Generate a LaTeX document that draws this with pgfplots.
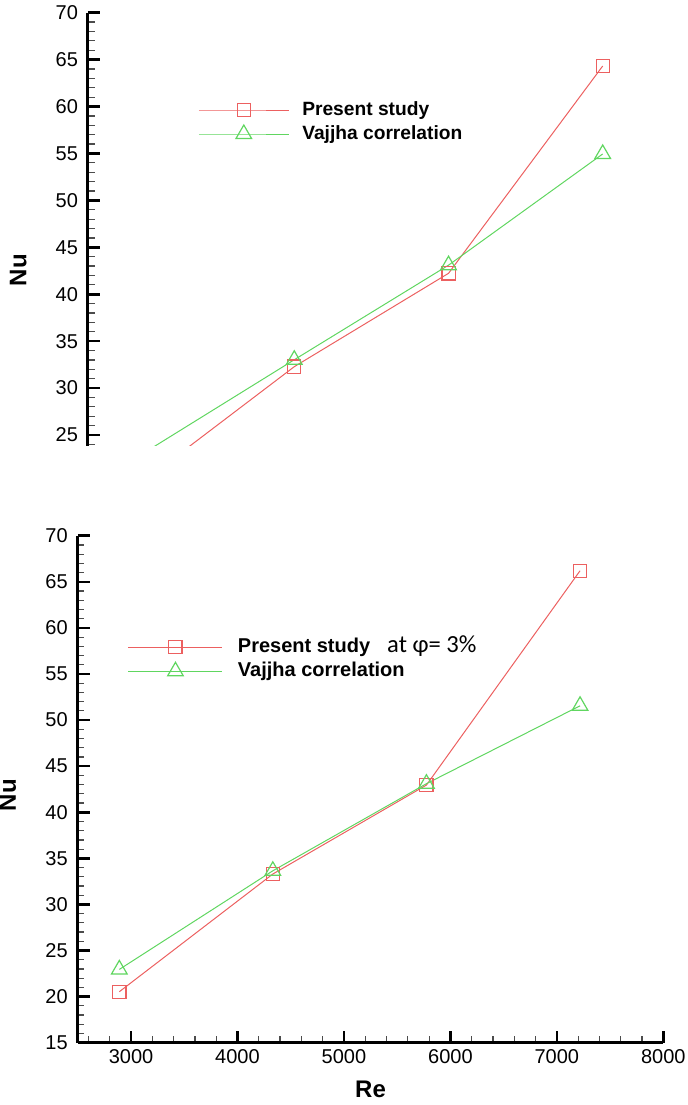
\documentclass[border=0pt]{standalone}
\usepackage{pgfplots}
\pgfplotsset{compat=1.18}
\usepackage{fontspec}
\setmainfont{Liberation Sans}
\newfontfamily\calib{Carlito}

\definecolor{studyred}{RGB}{236,96,96}
\definecolor{corrgreen}{RGB}{96,214,96}

\pgfplotsset{
  nuaxis/.style={
    scale only axis,
    anchor=south west,
    xmin=2500, xmax=8000,
    ymax=70,
    ytick={15,20,...,70},
    minor ytick={15,...,70},
    major tick length=6pt,
    minor tick length=3.3pt,
    major tick style={line width=1.3pt, black},
    minor tick style={line width=0.6pt, black!70},
    axis line style={line width=1.5pt},
    /pgf/number format/assume math mode=true,
    /pgf/number format/set thousands separator={},
    tick label style={font=\fontsize{10}{12}\selectfont},
    yticklabel style={xshift=-1.5pt},
    label style={font=\fontsize{12}{14}\selectfont\bfseries},
    legend cell align=left,
    legend style={draw=none, fill=none, inner sep=0pt, outer sep=0pt,
      anchor=north west, row sep=1pt,
      nodes={inner sep=0pt, text height=8pt, text depth=3pt}},
  },
  % legend sample: a line of the given length with the marker in its middle
  legline/.style={
    legend image code/.code={\draw[##1, mark repeat=2, mark phase=2]
      plot coordinates {(0pt,0pt) (#1/2,0pt) (#1,0pt)};},
  },
  study/.style={studyred, line width=0.5pt, mark=square, mark size=3.3pt,
    mark options={line width=0.6pt, solid}},
  corr/.style={corrgreen, line width=0.5pt, mark=triangle, mark size=4.5pt,
    mark options={line width=0.6pt, solid}},
}

\begin{document}
\begin{tikzpicture}
\path[use as bounding box] (0,0) rectangle (344pt,-552.5pt);

% upper panel: only the left axis, cut off below Nu = 24
\begin{axis}[nuaxis,
  at={(44pt,-222.85pt)},
  width=297.3pt, height=216.5pt,
  ymin=23.86,
  axis x line=none, axis y line*=left,
  xtick=\empty,
  tick align=inside,
  ylabel={Nu},
  ylabel style={at={(axis description cs:0,0.4057)}, anchor=center, yshift=34.85pt},
  legline=45pt,
  legend style={at={(axis description cs:0.1855,0.8007)},
    font=\fontsize{9.6}{12}\selectfont\bfseries,
    /tikz/column 1/.style={column sep=6.5pt}},
]
\addplot[study] coordinates {(2982,19.8) (4408,32.28) (5835,42.23) (7261,64.32)};
\addlegendentry{Present study}
\addplot[corr] coordinates {(2982,22.84) (4408,33.02) (5835,43.1) (7261,54.95)};
\addlegendentry{Vajjha correlation}
\end{axis}

% lower panel: Nu against Re at phi = 3 %
\begin{axis}[nuaxis,
  at={(38.9pt,-521.35pt)},
  width=292.75pt, height=253.5pt,
  ymin=15,
  axis lines*=left,
  tick align=inside,
  xtick={3000,4000,...,8000},
  minor xtick={2600,2800,...,8000},
  xlabel={Re},
  xlabel style={at={(axis description cs:0.5,0)}, anchor=base, yshift=-27.15pt},
  ylabel={Nu},
  ylabel style={at={(axis description cs:0,0.488)}, anchor=center, yshift=35pt},
  legline=47pt,
  legend style={at={(axis description cs:0.0857,0.8016)},
    font=\fontsize{10}{12}\selectfont\bfseries,
    /tikz/column 1/.style={column sep=7.5pt}},
]
\addplot[study] coordinates {(2890,20.53) (4332,33.3) (5775,42.95) (7218,66.2)};
\addlegendentry{Present study\hspace{8.5pt}{\calib\mdseries\fontsize{12.3}{12}\selectfont at φ= 3\%}}
\addplot[corr] coordinates {(2890,22.95) (4332,33.65) (5775,43.1) (7218,51.55)};
\addlegendentry{Vajjha correlation}
\end{axis}
\end{tikzpicture}
\end{document}
